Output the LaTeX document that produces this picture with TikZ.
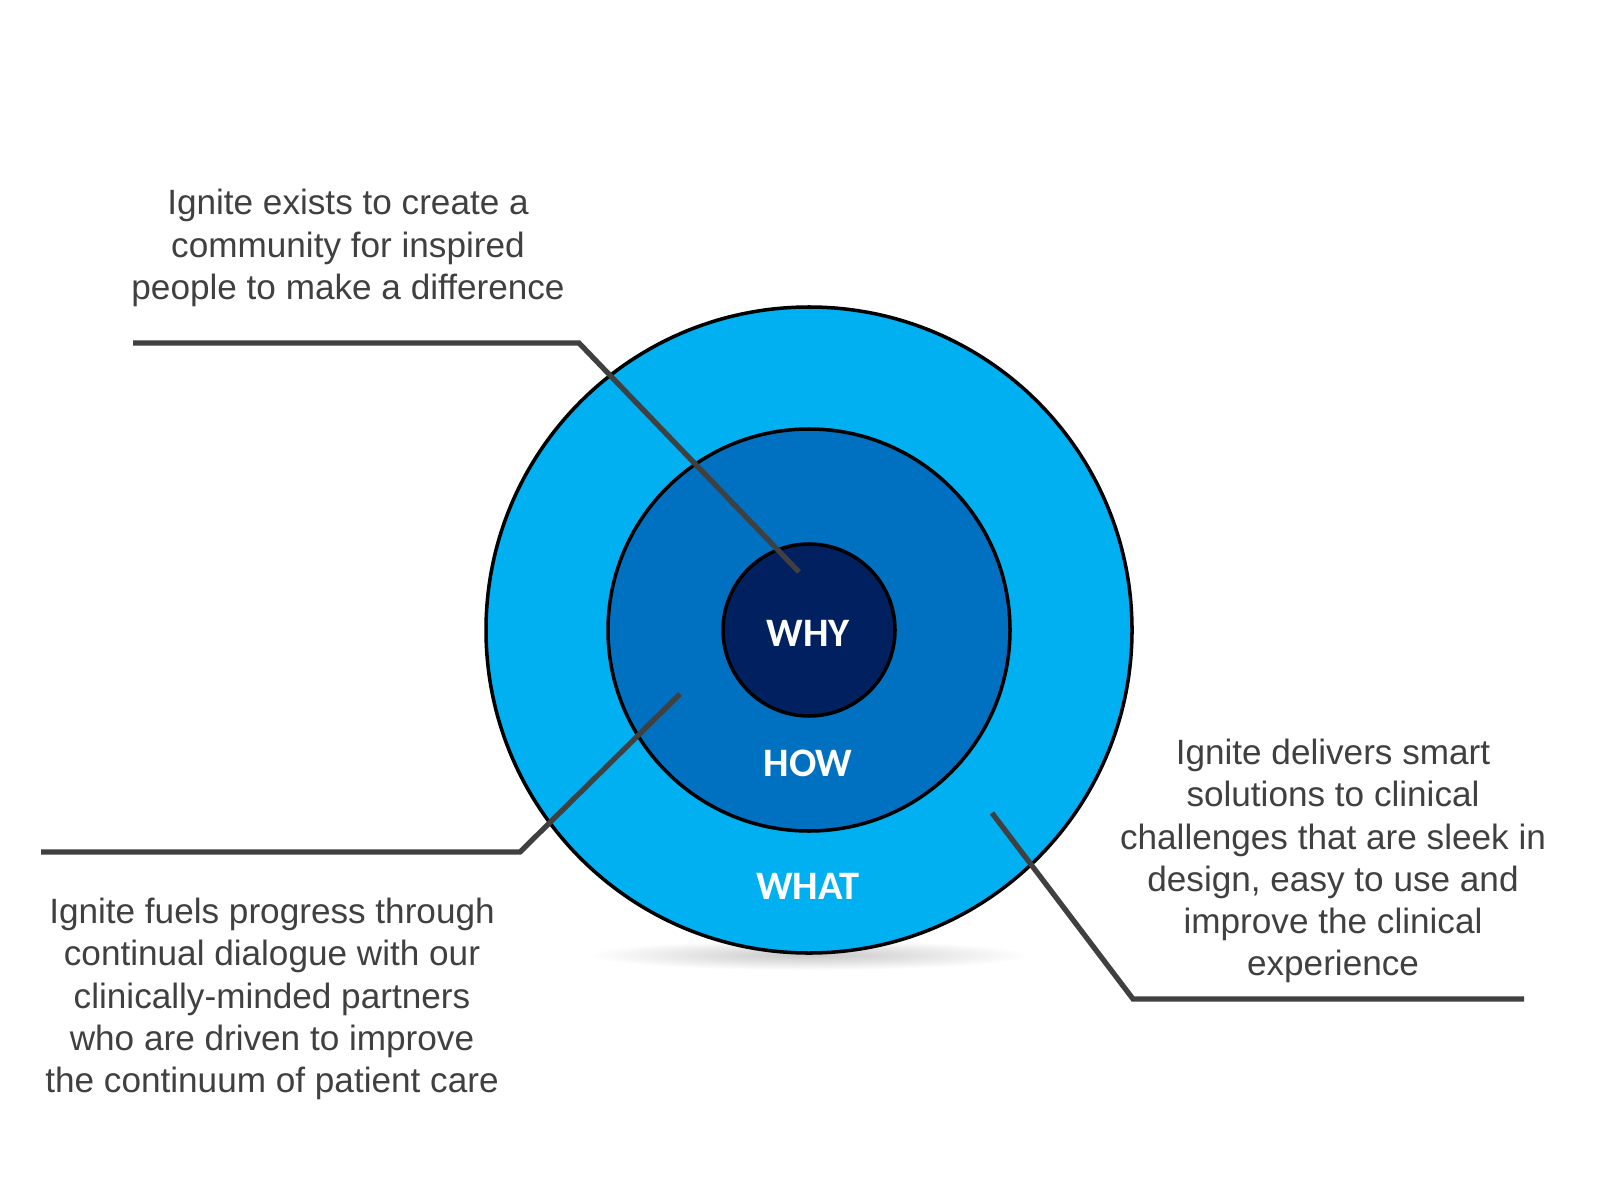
\documentclass[tikz,border=0pt]{standalone}
\usepackage{fontspec}
\setmainfont{Liberation Sans}
\newfontfamily\labelfont{Carlito}
\usetikzlibrary{positioning}
\definecolor{whatblue}{RGB}{0,176,240}
\definecolor{howblue}{RGB}{0,112,192}
\definecolor{whynavy}{RGB}{0,32,96}
\definecolor{leadgray}{RGB}{64,64,64}

\begin{document}
\begin{tikzpicture}[
  ring/.style={circle,draw=black,line width=1pt,inner sep=0pt},
  core/.style={text=white,font=\labelfont\fontsize{11.5}{13}\selectfont\bfseries},
  blurb/.style={align=center,text=leadgray,font=\fontsize{10}{12}\selectfont},
  leader/.style={draw=leadgray,line width=1.5pt}
]
  \useasboundingbox (0,0) rectangle (16,12);
  \fill[white] (0,0) rectangle (16,12);
  % soft shadow under the rings
  \shade[inner color=black!22,outer color=white] (8.09,2.45) ellipse (2.2 and 0.15);
  \node[ring,fill=whatblue,minimum size=6.46cm] (what) at (8.09,5.70) {};
  \node[ring,fill=howblue,minimum size=4.02cm] (how) at (8.09,5.70) {};
  \node[ring,fill=whynavy,minimum size=1.72cm] (why) at (8.09,5.70) {};
  \node[core] (whylbl) at (8.08,5.67) {WHY};
  \node[core] (howlbl) at (8.08,4.37) {HOW};
  \node[core] (whatlbl) at (8.08,3.14) {WHAT};

  \node[blurb] (whytext) at (3.48,9.52)
    {Ignite exists to create a\\community for inspired\\people to make a difference};
  \node[blurb] (howtext) at (2.72,2.01)
    {Ignite fuels progress through\\continual dialogue with our\\clinically-minded partners\\who are driven to improve\\the continuum of patient care};
  \node[blurb] (whattext) at (13.33,3.39)
    {Ignite delivers smart\\solutions to clinical\\challenges that are sleek in\\design, easy to use and\\improve the clinical\\experience};

  \coordinate (whystart) at (1.33,8.57);
  \coordinate (whybend) at (5.79,8.57);
  \coordinate (whyend) at (7.99,6.28);
  \coordinate (howstart) at (0.41,3.48);
  \coordinate (howbend) at (5.20,3.48);
  \coordinate (howend) at (6.80,5.06);
  \coordinate (whatend) at (9.92,3.87);
  \coordinate (whatbend) at (11.33,2.01);
  \coordinate (whatstart) at (15.24,2.01);
  \draw[leader] (whystart) -- (whybend) -- (whyend);
  \draw[leader] (howstart) -- (howbend) -- (howend);
  \draw[leader] (whatend) -- (whatbend) -- (whatstart);
\end{tikzpicture}
\end{document}
